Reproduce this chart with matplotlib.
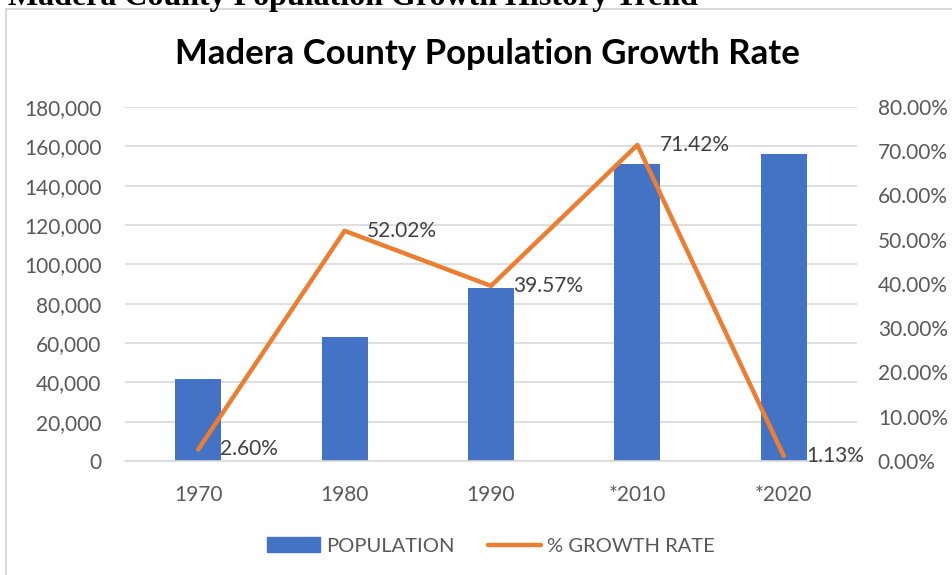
import matplotlib.pyplot as plt
import matplotlib.patches as mpatches
from matplotlib.lines import Line2D
from matplotlib.ticker import FuncFormatter, MultipleLocator

years = ["1970", "1980", "1990", "*2010", "*2020"]
population = [41519, 63116, 88090, 150865, 156255]
growth = [0.0260, 0.5202, 0.3957, 0.7142, 0.0113]
growth_labels = ["2.60%", "52.02%", "39.57%", "71.42%", "1.13%"]

blue = "#4472C4"
orange = "#ED7D31"
grid = "#D9D9D9"
tick_col = "#595959"

plt.rcParams['font.family'] = ['Lato', 'DejaVu Sans']

fig = plt.figure(figsize=(9.52, 5.75), dpi=100)
W, H = 952, 575

# page header cut off at the top
fig.text(8 / W, 1 - 5 / H, "Madera County Population Growth History Trend",
         family="Liberation Serif", fontweight="bold", fontsize=23,
         ha="left", va="baseline", color="black")

# chart frame
fig.patches.append(mpatches.Rectangle((6 / W, -0.1), 1.2, 1 - 9 / H + 0.1,
                                      transform=fig.transFigure, fill=False,
                                      edgecolor=grid, linewidth=1.5))

ax = fig.add_axes([125 / W, 1 - 461 / H, (857 - 125) / W, (461 - 107) / H])
x = list(range(len(years)))
ax.bar(x, population, width=0.314, color=blue, zorder=2)
ax.set_xlim(-0.5, 4.5)
ax.set_ylim(0, 180000)
ax.yaxis.set_major_locator(MultipleLocator(20000))
ax.yaxis.set_major_formatter(FuncFormatter(lambda v, p: f"{int(v):,}"))
ax.grid(axis="y", color=grid, linewidth=1.2, zorder=0)
ax.set_axisbelow(True)
for s in ["left", "right", "top"]:
    ax.spines[s].set_visible(False)
ax.spines["bottom"].set_color(grid)
ax.spines["bottom"].set_linewidth(1.2)
ax.set_xticks(x)
ax.set_xticklabels(years)
ax.tick_params(axis="both", length=0, labelsize=15, labelcolor=tick_col)
ax.tick_params(axis="x", pad=17)
ax.tick_params(axis="y", pad=17)

ax2 = ax.twinx()
ax2.plot(x, growth, color=orange, linewidth=3.2, solid_capstyle="round", zorder=3)
ax2.set_ylim(0, 0.8)
ax2.yaxis.set_major_locator(MultipleLocator(0.1))
ax2.yaxis.set_major_formatter(FuncFormatter(lambda v, p: f"{v * 100:.2f}%"))
for s in ["left", "right", "top", "bottom"]:
    ax2.spines[s].set_visible(False)
ax2.tick_params(axis="y", length=0, labelsize=15, labelcolor=tick_col, pad=15)

for xi, g, lab in zip(x, growth, growth_labels):
    ax2.annotate(lab, (xi, g), xytext=(16, 0), textcoords="offset points",
                 ha="left", va="center", fontsize=15, color="#404040")

fig.text(487 / W, 1 - 54 / H, "Madera County Population Growth Rate",
         fontsize=25, fontweight="bold", ha="center", va="center", color="black")

handles = [mpatches.Patch(color=blue, label="POPULATION"),
           Line2D([0], [0], color=orange, linewidth=3.2, solid_capstyle="round",
                  label="% GROWTH RATE")]
fig.legend(handles=handles, loc="center", bbox_to_anchor=(491 / W, 1 - 546 / H),
           ncol=2, frameon=False, fontsize=14.5, labelcolor=tick_col,
           handlelength=2.6, handleheight=0.7, handletextpad=0.3,
           columnspacing=1.7)

fig.savefig("out.png", dpi=100)
